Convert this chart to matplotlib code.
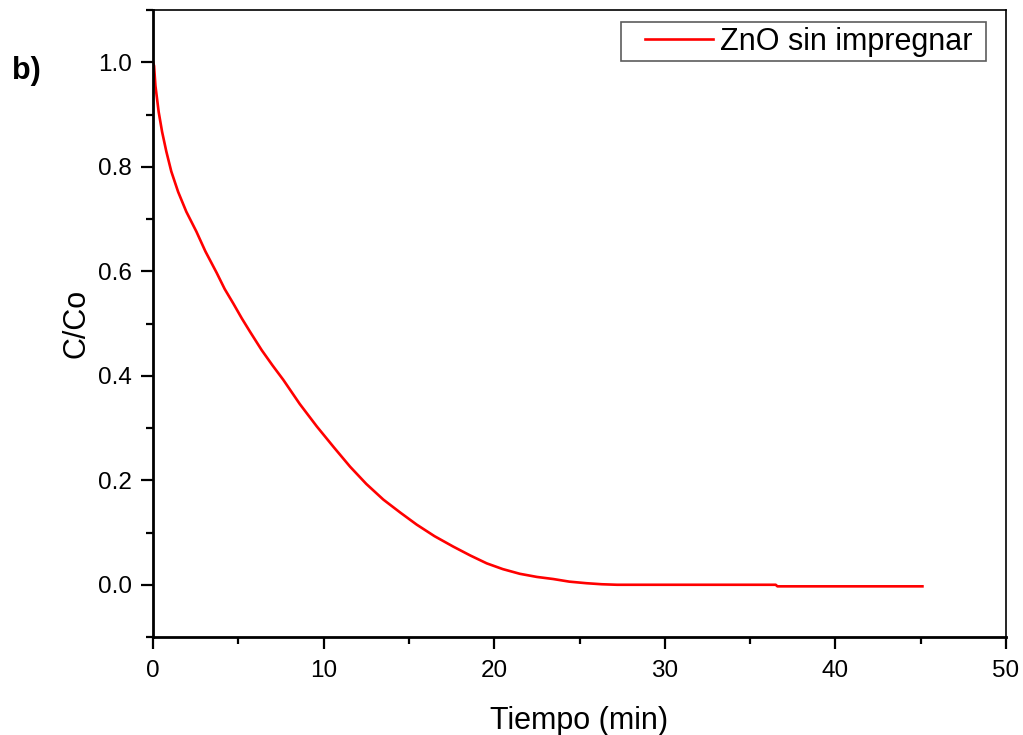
import matplotlib
matplotlib.use("Agg")
import matplotlib.pyplot as plt
from matplotlib.ticker import MultipleLocator
from matplotlib.legend_handler import HandlerLine2D

plt.rcParams['font.family'] = ['Liberation Sans', 'DejaVu Sans']

# Data
tiempo = [0.0, 0.06, 0.14, 0.33, 0.53, 0.78, 1.07, 1.47, 1.95, 2.54, 3.07, 3.73,
          4.2, 4.71, 5.2, 5.69, 6.37, 7.0, 7.64, 8.6, 9.60, 10.6, 11.55, 12.5,
          13.50, 14.5, 15.46, 16.5, 17.6, 18.6, 19.56, 20.5, 21.5, 22.5, 23.46, 24.4,
          25.4, 26.3, 27.2, 30.0, 33.0, 36.5, 36.6, 40.0, 45.1]
c_co = [1.0, 0.993, 0.955, 0.905, 0.867, 0.829, 0.791, 0.752, 0.714, 0.676, 0.638, 0.597,
        0.566, 0.538, 0.510, 0.484, 0.449, 0.420, 0.392,
        0.346, 0.303, 0.263, 0.226, 0.193, 0.163, 0.138, 0.115, 0.093, 0.073, 0.056,
        0.041, 0.030, 0.021, 0.015, 0.011, 0.006, 0.003, 0.001, 0.0, 0.0, 0.0, 0.0,
        -0.003, -0.003, -0.003]
serie_label = "ZnO sin impregnar"
x_label = "Tiempo (min)"
y_label = "C/Co"
panel_label = "b)"

fig = plt.figure(figsize=(10.23, 7.35), dpi=100)
ax = fig.add_axes([0.1496, 0.1333, 0.8338, 0.8531])

ax.plot(tiempo, c_co, color='#FF0000', lw=1.9, label=serie_label + " ")

ax.set_xlim(0, 50)
ax.set_ylim(-0.1, 1.1)
ax.xaxis.set_minor_locator(MultipleLocator(5))
ax.yaxis.set_minor_locator(MultipleLocator(0.1))
ax.set_xticks([0, 10, 20, 30, 40, 50])
ax.set_xticklabels(['0', '10', '20', '30', '40', '50'])
ax.set_yticks([0.0, 0.2, 0.4, 0.6, 0.8, 1.0])
ax.set_yticklabels(['0.0', '0.2', '0.4', '0.6', '0.8', '1.0'])

ax.tick_params(which='both', direction='out', top=False, right=False, width=1.6,
               labelsize=17.5, colors='black')
ax.tick_params(which='major', length=8.5, pad=6.5)
ax.tick_params(axis='x', which='major', pad=8)
ax.tick_params(which='minor', length=5)

for s in ['left', 'bottom']:
    ax.spines[s].set_linewidth(2.0)
for s in ['top', 'right']:
    ax.spines[s].set_linewidth(1.2)

ax.set_xlabel(x_label, fontsize=22, labelpad=17)
ax.set_ylabel(y_label, fontsize=22, labelpad=5)

leg = ax.legend(loc='upper right', bbox_to_anchor=(0.9766, 0.9809), fontsize=22,
                frameon=True, fancybox=False, shadow=False, handlelength=2.87,
                borderpad=0.15, handletextpad=0.23, borderaxespad=0.0,
                handler_map={matplotlib.lines.Line2D: HandlerLine2D(xpad=0.64)})
leg.get_frame().set_edgecolor('#333333')
leg.get_frame().set_linewidth(1.2)

fig.text(0.012, 0.903, panel_label, fontsize=22, fontweight='bold', va='center', ha='left')

fig.savefig('out.png', dpi=100)
